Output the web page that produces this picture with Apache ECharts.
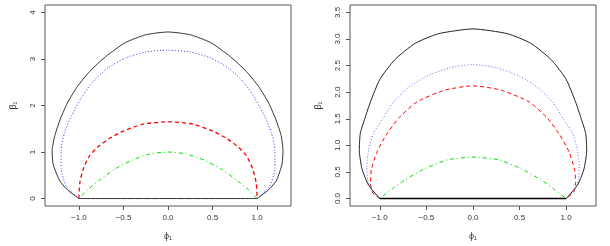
<!DOCTYPE html>
<html><head><meta charset="utf-8">
<script src="https://cdn.jsdelivr.net/npm/echarts@6/dist/echarts.min.js"></script>
<style>html,body{margin:0;padding:0;background:#fff}#c{width:610px;height:246px}</style>
</head><body><div id="c"></div>
<script>
// ---- tick labels ----
const xTicks = [-1, -0.5, 0, 0.5, 1];
const xTickLabels = ['\u22121.0', '\u22120.5', '0.0', '0.5', '1.0'];
const yTicksL = [0, 1, 2, 3, 4];
const yTickLabelsL = ['0', '1', '2', '3', '4'];
const yTicksR = [0, 0.5, 1, 1.5, 2, 2.5, 3, 3.5];
const yTickLabelsR = ['0.0', '0.5', '1.0', '1.5', '2.0', '2.5', '3.0', '3.5'];

// ---- left panel curves ----
const L_black_x = [-1, -1.13, -1.22, -1.29, -1.30, -1.27, -1.21, -1.13, -1.02, -0.88, -0.70, -0.48, -0.25, 0, 0.25, 0.48, 0.70, 0.88, 1.02, 1.13, 1.21, 1.27, 1.29, 1.28, 1.22, 1.13, 1];
const L_black_y = [0, 0.19, 0.40, 0.75, 1.03, 1.35, 1.70, 2.05, 2.40, 2.73, 3.05, 3.35, 3.52, 3.58, 3.52, 3.35, 3.05, 2.73, 2.40, 2.05, 1.70, 1.35, 1.03, 0.75, 0.40, 0.19, 0];
const L_blue_x = [-1, -1.14, -1.20, -1.20, -1.16, -1.09, -0.98, -0.85, -0.68, -0.48, -0.25, 0, 0.25, 0.48, 0.68, 0.85, 0.98, 1.09, 1.16, 1.20, 1.20, 1.14, 1];
const L_blue_y = [0, 0.26, 0.65, 1.03, 1.42, 1.75, 2.14, 2.50, 2.80, 3.02, 3.15, 3.19, 3.15, 3.02, 2.80, 2.50, 2.14, 1.75, 1.42, 1.03, 0.65, 0.26, 0];
const L_red_x = [-1, -0.99, -0.95, -0.88, -0.78, -0.65, -0.50, -0.28, 0, 0.28, 0.50, 0.65, 0.78, 0.88, 0.95, 0.99, 1];
const L_red_y = [0, 0.33, 0.64, 0.92, 1.12, 1.30, 1.45, 1.60, 1.65, 1.60, 1.45, 1.30, 1.12, 0.92, 0.64, 0.33, 0];
const L_green_x = [-1, -0.9, -0.78, -0.6, -0.4, -0.2, 0, 0.2, 0.4, 0.6, 0.78, 0.9, 1];
const L_green_y = [0, 0.19, 0.38, 0.63, 0.83, 0.96, 1.0, 0.96, 0.83, 0.63, 0.38, 0.19, 0];

// ---- right panel curves ----
const R_black_x = [-1, -1.12, -1.19, -1.22, -1.21, -1.16, -1.10, -1.0, -0.84, -0.62, -0.37, 0, 0.37, 0.62, 0.84, 1.0, 1.10, 1.16, 1.21, 1.22, 1.19, 1.12, 1];
const R_black_y = [0, 0.25, 0.55, 0.90, 1.22, 1.51, 1.82, 2.24, 2.61, 2.92, 3.10, 3.19, 3.10, 2.92, 2.61, 2.24, 1.82, 1.51, 1.22, 0.90, 0.55, 0.25, 0];
const R_blue_x = [-1, -1.08, -1.13, -1.14, -1.12, -1.07, -0.97, -0.86, -0.70, -0.50, -0.25, 0, 0.25, 0.50, 0.70, 0.86, 0.97, 1.07, 1.12, 1.14, 1.13, 1.08, 1];
const R_blue_y = [0, 0.15, 0.35, 0.60, 0.92, 1.22, 1.50, 1.80, 2.08, 2.30, 2.46, 2.52, 2.46, 2.30, 2.08, 1.80, 1.50, 1.22, 0.92, 0.60, 0.35, 0.15, 0];
const R_red_x = [-1, -1.08, -1.10, -1.09, -1.03, -0.93, -0.80, -0.60, -0.30, 0, 0.30, 0.60, 0.80, 0.93, 1.03, 1.09, 1.10, 1.08, 1];
const R_red_y = [0, 0.12, 0.30, 0.55, 0.88, 1.20, 1.51, 1.82, 2.04, 2.12, 2.04, 1.82, 1.51, 1.20, 0.88, 0.55, 0.30, 0.12, 0];
const R_green_x = [-1, -0.86, -0.73, -0.52, -0.27, 0, 0.27, 0.52, 0.73, 0.86, 1];
const R_green_y = [0, 0.19, 0.35, 0.56, 0.73, 0.78, 0.73, 0.56, 0.35, 0.19, 0];

const base_x = [-1, 1];
const base_y = [0, 0];

function pts(xs, ys) { return xs.map((x, i) => [x, ys[i]]); }
function fmt(ticks, labels) { return v => { const i = ticks.findIndex(t => Math.abs(t - v) < 1e-6); return i >= 0 ? labels[i] : ''; }; }

const FONT = 'Liberation Sans, Arial, Helvetica, sans-serif';
const labelStyle = { color: '#333', fontSize: 8, fontFamily: FONT };

function xAxis(idx, lim) {
  return {
    type: 'value', gridIndex: idx, min: -lim, max: lim, position: 'bottom',
    splitLine: { show: false }, axisLine: { show: false, onZero: false },
    axisTick: { show: true, inside: false, length: 4, lineStyle: { color: '#555' }, customValues: xTicks },
    axisLabel: Object.assign({ margin: 8, customValues: xTicks, formatter: fmt(xTicks, xTickLabels) }, labelStyle),
    name: '\u03d5\u2081', nameLocation: 'middle', nameGap: 26,
    nameTextStyle: { color: '#333', fontSize: 9, fontFamily: FONT }
  };
}
function yAxis(idx, mn, mx, ticks, labels) {
  return {
    type: 'value', gridIndex: idx, min: mn, max: mx, position: 'left',
    splitLine: { show: false }, axisLine: { show: false, onZero: false },
    axisTick: { show: true, inside: false, length: 4, lineStyle: { color: '#555' }, customValues: ticks },
    axisLabel: Object.assign({ margin: 8, rotate: 90, customValues: ticks, formatter: fmt(ticks, labels) }, labelStyle),
    name: '\u03b2\u2081', nameLocation: 'middle', nameGap: 27, nameRotate: 90,
    nameTextStyle: { color: '#333', fontSize: 9, fontFamily: FONT }
  };
}

function line(idx, xs, ys, color, type, width) {
  return {
    type: 'line', xAxisIndex: idx, yAxisIndex: idx, data: pts(xs, ys),
    showSymbol: false, symbol: 'none', smooth: 0.2, animation: false, silent: true,
    lineStyle: { color: color, type: type, width: width }
  };
}

const chart = echarts.init(document.getElementById('c'), null, { renderer: 'canvas' });
chart.setOption({
  backgroundColor: '#fff',
  animation: false,
  grid: [
    { left: 45, top: 5, width: 246, height: 204, show: true, borderColor: '#555', borderWidth: 1, backgroundColor: 'transparent' },
    { left: 350, top: 5, width: 246, height: 204, show: true, borderColor: '#555', borderWidth: 1, backgroundColor: 'transparent' }
  ],
  xAxis: [xAxis(0, 1.38), xAxis(1, 1.32)],
  yAxis: [yAxis(0, -0.16, 4.16, yTicksL, yTickLabelsL), yAxis(1, -0.14, 3.64, yTicksR, yTickLabelsR)],
  series: [
    line(0, L_green_x, L_green_y, '#00dd00', [1, 3, 4, 3], 1),
    line(0, L_red_x, L_red_y, '#ff0000', [4, 3], 1.3),
    line(0, L_blue_x, L_blue_y, '#3333ff', [1, 2], 1),
    line(0, L_black_x, L_black_y, '#333', 'solid', 1),
    line(0, base_x, base_y, '#333', 'solid', 1),
    line(1, R_green_x, R_green_y, '#00dd00', [1, 3, 4, 3], 1),
    line(1, R_red_x, R_red_y, '#ff0000', [4, 3], 1),
    line(1, R_blue_x, R_blue_y, '#6666ff', [1, 2], 1),
    line(1, R_black_x, R_black_y, '#222', 'solid', 1),
    line(1, base_x, base_y, '#000', 'solid', 1.5)
  ]
});
</script>
</body></html>
